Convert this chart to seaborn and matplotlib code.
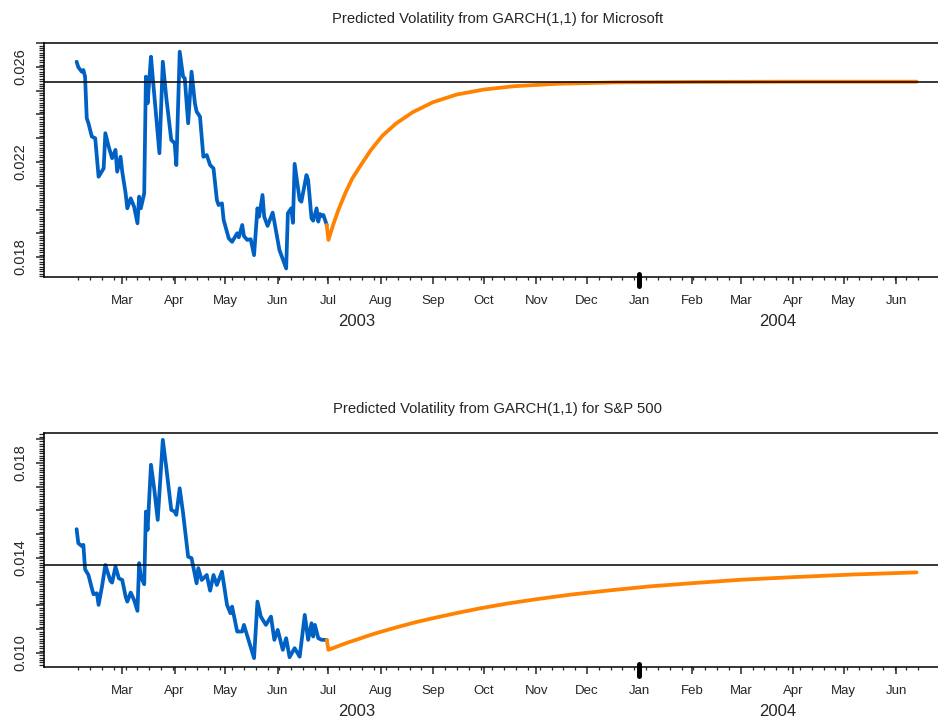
import numpy as np
import pandas as pd
import matplotlib
matplotlib.use("Agg")
import matplotlib.pyplot as plt
import matplotlib.dates as mdates
import matplotlib.ticker as mticker
import matplotlib.transforms as mtransforms
import seaborn as sns

sns.set_style("ticks")
plt.rcParams["font.family"] = ["Liberation Sans", "DejaVu Sans"]

# Day offsets are counted from the forecast origin (first forecast day).
origin = pd.Timestamp("2003-07-01")

# Microsoft: fitted conditional volatility
msft_days = [-149, -148, -146, -145, -144, -143, -142, -140, -138, -136, -133, -132,
             -130, -128, -126, -125, -123, -122, -120, -119, -117, -115, -113, -112,
             -111, -109, -108, -107, -105, -104, -100, -98, -96, -93, -91, -90,
             -88, -86, -85, -83, -81, -79, -78, -76, -74, -72, -70, -68,
             -66, -65, -63, -62, -59, -57, -54, -53, -51, -50, -48, -46,
             -44, -42, -41, -39, -38, -36, -33, -32, -29, -25, -24, -22,
             -21, -20, -17, -16, -13, -12, -10, -9, -7, -6, -5, -4, -3, -1]
msft_vol = [.02622, .02599, .02580, .02587, .02559, .02384, .02363, .02307, .02300, .02138, .02173, .02321,
            .02264, .02216, .02251, .02159, .02222, .02159, .02068, .02005, .02047, .02012, .01942, .02054,
            .02005, .02068, .02559, .02447, .02643, .02559, .02237, .02622, .02475, .02293, .02279, .02187,
            .02664, .02559, .02552, .02363, .02580, .02447, .02412, .02391, .02222, .02229, .02187, .02173,
            .02040, .02019, .02026, .01956, .01879, .01864, .01900, .01883, .01935, .01888, .01872, .01875,
            .01808, .02005, .01970, .02061, .01970, .01931, .01987, .01949, .01830, .01752, .01984, .02005,
            .01944, .02192, .02040, .02033, .02145, .02124, .01963, .01953, .02005, .01949, .01981, .01973,
            .01977, .01935]
# Microsoft: volatility forecast (joined to the last fitted value)
msft_fc_days = [-1, 0, 3, 6, 10, 14, 19, 25, 32, 40, 50, 62, 76, 92, 110, 135, 170, 220, 280, 348]
msft_fc_vol = [.01935, .01872, .01940, .02000, .02069, .02129, .02185, .02249, .02311, .02362,
               .02410, .02452, .02484, .02505, .02519, .02529, .02535, .02537, .02538, .02538]
msft_longrun = 0.02538

# S&P 500: fitted conditional volatility
sp_days = [-149, -148, -146, -145, -144, -142, -140, -139, -137, -136, -134, -132,
           -129, -128, -126, -124, -122, -120, -119, -117, -115, -113, -112, -111,
           -109, -108, -107, -105, -103, -101, -98, -96, -93, -91, -90, -88,
           -86, -83, -81, -78, -77, -75, -72, -70, -68, -66, -63, -60,
           -58, -57, -54, -51, -50, -44, -42, -40, -37, -34, -32, -30,
           -27, -25, -23, -20, -17, -14, -12, -10, -9, -8, -6, -4, -1]
sp_vol = [.01521, .01462, .01450, .01455, .01352, .01328, .01272, .01247, .01251, .01202, .01279, .01370,
          .01303, .01296, .01363, .01314, .01307, .01237, .01216, .01254, .01223, .01177, .01378, .01321,
          .01289, .01595, .01518, .01792, .01686, .01560, .01897, .01784, .01602, .01595, .01581, .01693,
          .01588, .01405, .01399, .01293, .01357, .01307, .01328, .01262, .01328, .01286, .01342, .01202,
          .01167, .01195, .01090, .01090, .01118, .00978, .01216, .01153, .01118, .01153, .01055, .01097,
          .01013, .01062, .00982, .01020, .00984, .01160, .01055, .01125, .01069, .01118, .01062, .01055,
          .01055]
# S&P 500: volatility forecast (joined to the last fitted value)
sp_fc_days = [-1, 0, 3, 7, 12, 18, 25, 33, 42, 52, 63, 76, 90, 106, 124, 144, 166, 190, 216,
              244, 275, 310, 348]
sp_fc_vol = [.01055, .01013, .01021, .01032, .01045, .01059, .01076, .01093, .01111, .01130, .01148,
             .01168, .01188, .01208, .01227, .01246, .01263, .01280, .01294, .01308, .01319, .01330,
             .01339]
sp_longrun = 0.01370

BLUE = "#0061c4"
ORANGE = "#ff8200"
LINE_W = 2.7


def to_dates(days):
    return origin + pd.to_timedelta(np.asarray(days, dtype=float), unit="D")


def vol_label(v, pos):
    # label every fourth major tick: ..., 0.010, 0.014, 0.018, 0.022, 0.026
    k = (v - 0.002) / 0.004
    return f"{v:.3f}" if abs(k - round(k)) < 1e-6 else ""


fig = plt.figure(figsize=(9.38, 7.19), dpi=100)
W, H = 938.0, 719.0
left_px, right_px = 44.0, 938.0
ax_top = fig.add_axes([left_px / W, 1 - 277.0 / H, (right_px - left_px) / W, 234.3 / H])
ax_bot = fig.add_axes([left_px / W, 1 - 666.7 / H, (right_px - left_px) / W, 234.0 / H])

panels = [
    (ax_top, "Microsoft", msft_days, msft_vol, msft_fc_days, msft_fc_vol, msft_longrun, (0.01716, 0.02702)),
    (ax_bot, "S&P 500", sp_days, sp_vol, sp_fc_days, sp_fc_vol, sp_longrun, (0.00942, 0.01927)),
]

x_lo = origin + pd.Timedelta(days=-168.3)
x_hi = origin + pd.Timedelta(days=360.7)
month_starts = pd.date_range("2003-03-01", "2004-06-01", freq="MS")
mondays = pd.date_range("2003-02-03", "2004-06-14", freq="W-MON")
year_break = pd.Timestamp("2004-01-01")

for ax, name, days, vol, fc_days, fc_vol, longrun, ylim in panels:
    hist = pd.DataFrame({"date": to_dates(days), "vol": vol})
    fc = pd.DataFrame({"date": to_dates(fc_days), "vol": fc_vol})
    sns.lineplot(data=hist, x="date", y="vol", color=BLUE, lw=LINE_W, ax=ax, zorder=3)
    sns.lineplot(data=fc, x="date", y="vol", color=ORANGE, lw=LINE_W, ax=ax, zorder=3)
    ax.axhline(longrun, color="black", lw=1.1, zorder=4)

    ax.set_xlim(x_lo, x_hi)
    ax.set_ylim(*ylim)
    ax.set_xlabel("")
    ax.set_ylabel("")

    ax.xaxis.set_major_locator(mticker.FixedLocator(mdates.date2num(month_starts)))
    ax.xaxis.set_major_formatter(mdates.DateFormatter("%b"))
    ax.xaxis.set_minor_locator(mticker.FixedLocator(mdates.date2num(mondays)))
    ax.yaxis.set_major_locator(mticker.MultipleLocator(0.001))
    ax.yaxis.set_minor_locator(mticker.MultipleLocator(0.0001))
    ax.yaxis.set_major_formatter(mticker.FuncFormatter(vol_label))

    ax.tick_params(axis="x", which="major", length=5, width=1.1, pad=8)
    ax.tick_params(axis="x", which="minor", length=2.5, width=0.9)
    ax.tick_params(axis="y", which="major", length=6, width=1.1, pad=6, labelsize=10.5,
                   labelrotation=90)
    ax.tick_params(axis="y", which="minor", length=3.5, width=0.9)

    for side in ("left", "bottom", "top"):
        ax.spines[side].set_linewidth(1.1)
        ax.spines[side].set_color("black")
    ax.spines["right"].set_visible(False)

    ax.set_title(f"Predicted Volatility from GARCH(1,1) for {name}", fontsize=10.7,
                 x=0.507, pad=14)

    # heavier tick at the year boundary
    trans = mtransforms.blended_transform_factory(ax.transData, ax.transAxes)
    yb = mdates.date2num(year_break)
    ax.plot([yb, yb], [0.012, -0.04], transform=trans, color="black", lw=3.6,
            solid_capstyle="round", clip_on=False, zorder=5)

    # year labels centred under the plotted span of each year
    start = hist["date"].min()
    end = fc["date"].max()
    for yr_start, yr_end, label in [(start, pd.Timestamp("2003-12-31"), "2003"),
                                    (year_break, end, "2004")]:
        mid = yr_start + (yr_end - yr_start) / 2
        ax.annotate(label, xy=(mdates.date2num(mid), 0), xycoords=trans,
                    xytext=(0, -45), textcoords="offset pixels",
                    ha="center", va="center", fontsize=12)

fig.canvas.draw()
for ax in (ax_top, ax_bot):
    for lbl in ax.get_yticklabels():
        lbl.set_verticalalignment("center")
    for lbl in ax.get_xticklabels():
        lbl.set_fontsize(9.5)

fig.savefig("out.png", dpi=100, facecolor="white")
